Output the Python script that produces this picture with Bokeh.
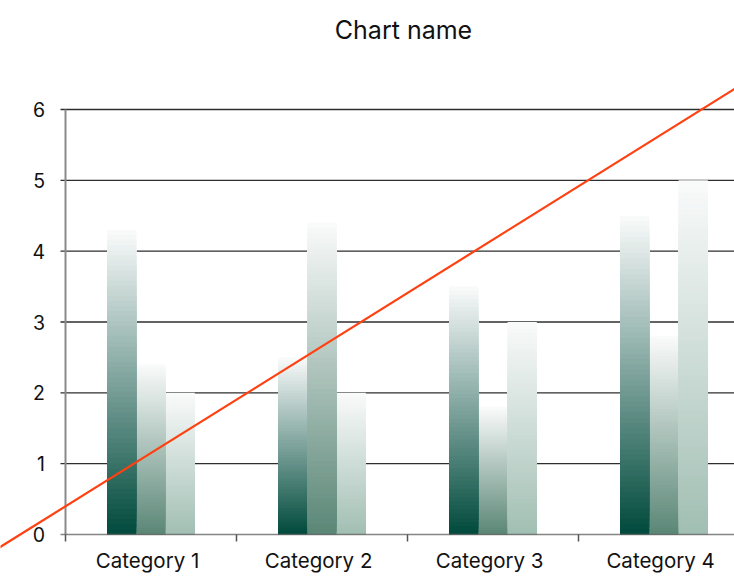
import numpy as np
from bokeh.plotting import figure
from bokeh.models import ColumnDataSource, Range1d
from bokeh.core.properties import value
from bokeh.embed import file_html
from bokeh.resources import INLINE

# ---- data ----
categories = ["Category 1", "Category 2", "Category 3", "Category 4"]
series1 = [4.3, 2.5, 3.5, 4.5]
series2 = [2.4, 4.4, 1.8, 2.8]
series3 = [2.0, 2.0, 3.0, 5.0]
trend = [1.15, 2.66, 4.16, 5.67]
y_ticks = [0, 1, 2, 3, 4, 5, 6]
title_text = "Chart name"

# ---- styles ----
base_colors = ["#004a3c", "#5a8676", "#a1beb3"]
top_color = "#fafbfb"
line_color = "#ff4010"
text_color = "#111111"
FONT = "Inter"

# ---- layout (pixels inside the figure) ----
W, H = 734, 577
ORG = 0            # figure origin in picture pixels
AX_X = 65          # x pixel of value axis
CAT_PX = 171       # pixels per category
Y0 = 534           # y pixel of value 0
UNIT_PX = 425 / 6  # pixels per value unit


def u(X):
    return (X - AX_X) / CAT_PX


def v(Y):
    return (Y0 - Y) / UNIT_PX


p = figure(width=W, height=H,
           x_range=Range1d(u(ORG), u(ORG + W)), y_range=Range1d(v(ORG + H), v(ORG)),
           output_backend="svg", toolbar_location=None, min_border=0,
           x_axis_type=None, y_axis_type=None, title=None)
p.outline_line_color = None
p.background_fill_color = "white"
p.border_fill_color = "white"

x_end = u(ORG + W) + 0.05

# gridlines (values above 0)
grid_vals = [t for t in y_ticks if t > 0]
p.segment(x0=[u(60)] * len(grid_vals), y0=grid_vals,
          x1=[x_end] * len(grid_vals), y1=grid_vals,
          line_color="#2e2e2e", line_width=1.3)

# value axis line
p.segment(x0=[0], y0=[0], x1=[0], y1=[max(y_ticks)], line_color="#8a8a8a", line_width=2)


def hex2rgb(h):
    h = h.lstrip("#")
    return np.array([int(h[i:i + 2], 16) for i in (0, 2, 4)], dtype=float)


def rgb2hex(c):
    return "#%02x%02x%02x" % tuple(int(round(x)) for x in c)


# gradient bars: each bar built from stacked bands drawn top-down
N = 60
bar_w = 0.171
offsets = [-bar_w, 0.0, bar_w]
xs, tops, cols = [], [], []
for k in range(N, 0, -1):
    f = (k - 0.5) / N
    for s, vals in enumerate([series1, series2, series3]):
        c = rgb2hex(hex2rgb(base_colors[s]) * (1 - f) + hex2rgb(top_color) * f)
        for i, val in enumerate(vals):
            xs.append(i + 0.5 + offsets[s])
            tops.append(val * k / N)
            cols.append(c)
src = ColumnDataSource(dict(x=xs, top=tops, color=cols))
p.vbar(x="x", top="top", bottom=0, width=bar_w, fill_color="color", line_color=None, source=src)

# category axis line + ticks
p.segment(x0=[u(60)], y0=[0], x1=[x_end], y1=[0], line_color="#666666", line_width=1.5, line_alpha=0.8)
cat_edges = list(range(len(categories) + 1))
p.segment(x0=cat_edges, y0=[0] * len(cat_edges), x1=cat_edges, y1=[v(541)] * len(cat_edges),
          line_color="#555555", line_width=1.5)

# red trend line
centers = np.arange(len(categories)) + 0.5
fit = np.polyfit(centers, trend, 1)
lx = np.array([u(ORG - 5), x_end])
p.line(x=lx, y=np.polyval(fit, lx), line_color=line_color, line_width=2.2)

# texts
p.text(x=list(centers - 0.02), y=[v(560)] * len(categories), text=categories,
       text_font=value(FONT), text_font_size="20.5px", text_color=text_color,
       text_align="center", text_baseline="middle")
p.text(x=[u(44.5)] * len(y_ticks), y=y_ticks, text=[str(t) for t in y_ticks],
       text_font=value(FONT), text_font_size="19.5px", text_color=text_color,
       text_align="right", text_baseline="middle")
p.text(x=[u(403)], y=[v(29)], text=[title_text],
       text_font=value(FONT), text_font_size="25px", text_color=text_color,
       text_align="center", text_baseline="middle")

open("out.html", "w").write(file_html(p, INLINE))
